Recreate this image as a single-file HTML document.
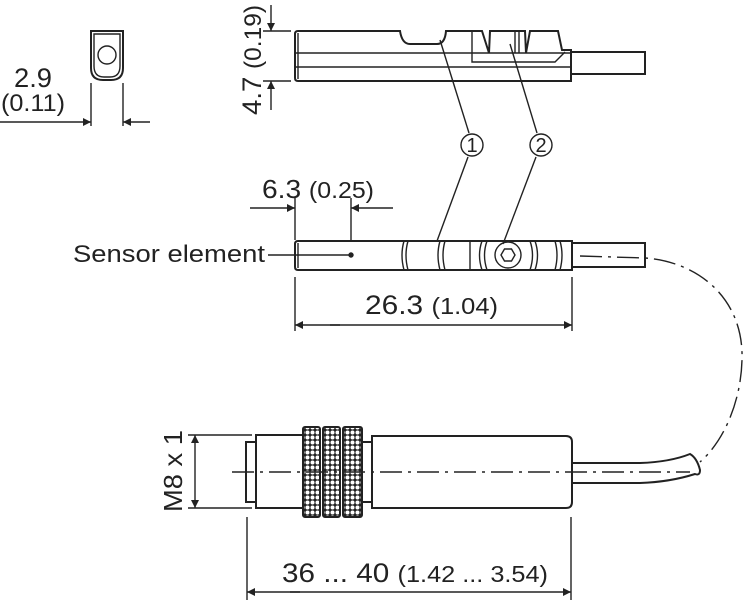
<!DOCTYPE html>
<html><head><meta charset="utf-8"><style>
html,body{margin:0;padding:0;background:#fff;}
svg{display:block;}
text{font-family:"Liberation Sans",sans-serif;fill:#222;}
</style></head><body>
<svg width="744" height="600" viewBox="0 0 744 600" xmlns="http://www.w3.org/2000/svg">
<defs>
<marker id="ar" viewBox="0 0 10 10" refX="10" refY="5" markerWidth="14" markerHeight="8" markerUnits="userSpaceOnUse" orient="auto"><path d="M0,0 L10,5 L0,10 z" fill="#222"/></marker>
<pattern id="kn" width="5" height="5" patternUnits="userSpaceOnUse"><rect width="5" height="5" fill="#222"/><circle cx="2.5" cy="2.5" r="2" fill="#fff"/></pattern>
</defs>
<g stroke="#222" fill="none" stroke-width="1.4">
<path d="M91,31 L123,31 L123,68 Q123,80 111,80 L103,80 Q91,80 91,68 Z" stroke-width="2"/>
<path d="M94,34 L120,34 L120,66 Q120,77 110,77 L104,77 Q94,77 94,66 Z"/>
<circle cx="107" cy="55" r="9"/>
<line x1="91" y1="83" x2="91" y2="126"/><line x1="123" y1="83" x2="123" y2="126"/>
<line x1="0" y1="122" x2="91" y2="122" marker-end="url(#ar)"/>
<line x1="150" y1="122" x2="123" y2="122" marker-end="url(#ar)"/>
<path d="M298,31 L400,31 Q402,44 410,44 L437,44 Q445,44 446,31 L482,31 L489,53 L490,31 L525,31 L526,53 L530,31 L558,31 L562,50 L571,50 L571,81 L298,81 Q295,81 295,78 L295,34 Q295,31 298,31 Z" stroke-width="2"/>
<line x1="298" y1="33" x2="298" y2="79"/>
<line x1="295" y1="53" x2="571" y2="53"/>
<line x1="295" y1="67" x2="571" y2="67"/>
<path d="M472,32 L472,62 L555,62 L565,52"/>
<line x1="515" y1="32" x2="515" y2="53"/><line x1="519" y1="32" x2="519" y2="53"/>
<rect x="571" y="52" width="74" height="22" stroke-width="2"/>
<line x1="263" y1="31" x2="291" y2="31"/><line x1="263" y1="81" x2="291" y2="81"/>
<line x1="271" y1="5" x2="271" y2="31" marker-end="url(#ar)"/>
<line x1="271" y1="110" x2="271" y2="81" marker-end="url(#ar)"/>
<circle cx="472" cy="145" r="11"/><circle cx="541" cy="145" r="11"/>
<line x1="440" y1="40" x2="469" y2="133"/>
<line x1="510" y1="44" x2="537" y2="133"/>
<line x1="468" y1="157" x2="437" y2="241"/>
<line x1="536" y1="157" x2="503" y2="244"/>
<path d="M298,241 L572,241 L572,270 L298,270 Q295,270 295,267 L295,244 Q295,241 298,241 Z" stroke-width="2"/>
<line x1="298" y1="243" x2="298" y2="268"/>
<path d="M404,241 Q400,255 404,270 M408,241 Q404,255 408,270"/>
<path d="M440,241 Q436,255 440,270 M445,241 Q441,255 445,270"/>
<line x1="470" y1="241" x2="470" y2="270"/>
<path d="M482,241 Q477,255 482,270 M487,241 Q482,255 487,270"/>
<circle cx="508" cy="255" r="13"/>
<polygon points="501,255 504.5,249 511.5,249 515,255 511.5,261 504.5,261"/>
<path d="M530,241 Q535,255 530,270 M535,241 Q540,255 535,270"/>
<path d="M555,241 Q559,255 555,270 M560,241 Q564,255 560,270"/>
<rect x="572" y="243" width="73" height="24" stroke-width="2"/>
<circle cx="351" cy="255" r="2" fill="#222"/>
<line x1="268" y1="255" x2="351" y2="255"/>
<line x1="295" y1="198" x2="295" y2="240"/><line x1="351" y1="198" x2="351" y2="240"/>
<line x1="250" y1="208" x2="295" y2="208" marker-end="url(#ar)"/>
<line x1="393" y1="208" x2="351" y2="208" marker-end="url(#ar)"/>
<line x1="295" y1="277" x2="295" y2="331"/><line x1="572" y1="277" x2="572" y2="331"/>
<line x1="340" y1="325" x2="295" y2="325" marker-end="url(#ar)"/>
<line x1="330" y1="325" x2="572" y2="325" marker-end="url(#ar)"/>
<path d="M580,256 L645,258 C700,262 744,300 742,360 C741,400 725,440 700,462" stroke-dasharray="22,6,3,6"/>
<rect x="246" y="442" width="10" height="60" stroke-width="2"/>
<rect x="256" y="435" width="47" height="73" stroke-width="2"/>
<rect x="303" y="427" width="17" height="90" rx="2" fill="url(#kn)" stroke-width="2"/>
<rect x="323" y="427" width="17" height="90" rx="2" fill="url(#kn)" stroke-width="2"/>
<rect x="343" y="427" width="19" height="90" rx="2" fill="url(#kn)" stroke-width="2"/>
<rect x="362" y="442" width="10" height="60" stroke-width="2"/>
<path d="M372,436 L566,436 Q572,436 572,442 L572,502 Q572,508 566,508 L372,508 Z" stroke-width="2"/>
<path d="M572,463 L640,463 Q670,462 690,454 Q697,458 700,470 Q700,476 695,474 Q670,482 640,483 L572,483" stroke-width="2"/>
<line x1="232" y1="472" x2="690" y2="472" stroke-dasharray="22,6,3,6"/>
<line x1="188" y1="435" x2="252" y2="435"/><line x1="188" y1="508" x2="252" y2="508"/>
<line x1="195" y1="472" x2="195" y2="435" marker-end="url(#ar)"/>
<line x1="195" y1="472" x2="195" y2="508" marker-end="url(#ar)"/>
<line x1="247" y1="517" x2="247" y2="600"/><line x1="571" y1="517" x2="571" y2="600"/>
<line x1="300" y1="592" x2="247" y2="592" marker-end="url(#ar)"/>
<line x1="290" y1="592" x2="571" y2="592" marker-end="url(#ar)"/>
</g>
<g>
<text x="14" y="87" font-size="27" textLength="38" lengthAdjust="spacingAndGlyphs">2.9</text>
<text x="1" y="111" font-size="24" textLength="64" lengthAdjust="spacingAndGlyphs">(0.11)</text>
<text transform="translate(261,115) rotate(-90)" font-size="27" textLength="110" lengthAdjust="spacingAndGlyphs">4.7 <tspan font-size="24">(0.19)</tspan></text>
<text x="472" y="152" font-size="20" text-anchor="middle">1</text>
<text x="541" y="152" font-size="20" text-anchor="middle">2</text>
<text x="262" y="198" font-size="26" textLength="112" lengthAdjust="spacingAndGlyphs">6.3 <tspan font-size="23">(0.25)</tspan></text>
<text x="73" y="262" font-size="24" textLength="192" lengthAdjust="spacingAndGlyphs">Sensor element</text>
<text x="365" y="314" font-size="27" textLength="133" lengthAdjust="spacingAndGlyphs">26.3 <tspan font-size="23">(1.04)</tspan></text>
<text transform="translate(182,512) rotate(-90)" font-size="26" textLength="82" lengthAdjust="spacingAndGlyphs">M8 x 1</text>
<text x="282" y="582" font-size="27" textLength="266" lengthAdjust="spacingAndGlyphs">36 ... 40 <tspan font-size="23">(1.42 ... 3.54)</tspan></text>
</g>
</svg>
</body></html>
